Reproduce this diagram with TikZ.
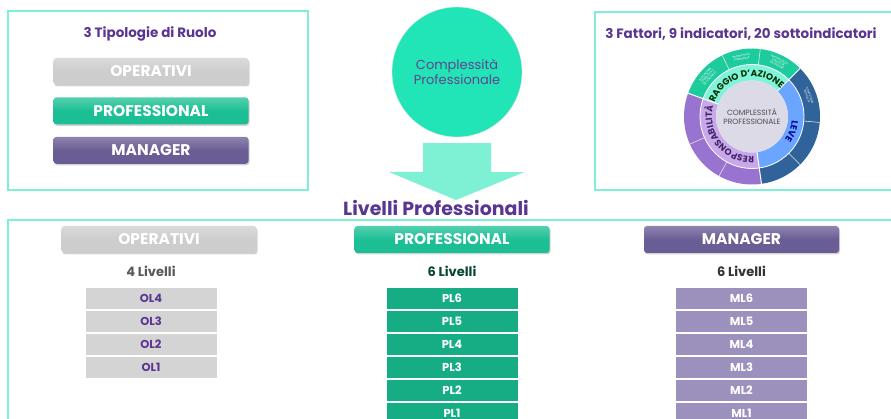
\documentclass[tikz,border=0pt]{standalone}
\usepackage{fontspec}
\setmainfont{Poppins}
\usetikzlibrary{positioning, shadows, decorations.text}

\definecolor{frameaqua}{HTML}{7FEFD6}
\definecolor{titlepurple}{HTML}{5B3592}
\definecolor{circaqua}{HTML}{21E5B7}
\definecolor{arrowaqua}{HTML}{7EF0D4}
\definecolor{opgray}{HTML}{CDCDCD}
\definecolor{proteal}{HTML}{1CBF94}
\definecolor{mgrpurple}{HTML}{6A5C94}
\definecolor{oprow}{HTML}{D4D4D4}
\definecolor{prorow}{HTML}{16AD85}
\definecolor{mgrrow}{HTML}{9C90BC}
\definecolor{wgreenout}{HTML}{1ECB9C}
\definecolor{wgreenin}{HTML}{80F3D9}
\definecolor{wblueout}{HTML}{2F6399}
\definecolor{wbluein}{HTML}{6AA6FF}
\definecolor{wpurpout}{HTML}{9873CF}
\definecolor{wpurpin}{HTML}{C8A8EB}
\definecolor{wcore}{HTML}{DCDAE6}

% annular sector: colour, start angle, end angle, inner radius, outer radius
\newcommand\ringsector[5]{%
  \fill[#1] (#2:#4) arc[start angle=#2, end angle=#3, radius=#4]
    -- (#3:#5) arc[start angle=#3, end angle=#2, radius=#5] -- cycle;}

\begin{document}
\begin{tikzpicture}[
    x=1pt, y=1pt,
    frame/.style={draw=frameaqua, line width=1.5pt},
    heading/.style={text=titlepurple, font=\bfseries\fontsize{13.5}{14}\selectfont},
    role/.style={rectangle, rounded corners=3pt, top color=#1!75!white,
                 bottom color=#1, middle color=#1, minimum width=195pt,
                 minimum height=27pt, text=white, inner sep=0pt,
                 font=\bfseries\fontsize{15.5}{15.5}\selectfont,
                 drop shadow={opacity=0.35, shadow xshift=1pt, shadow yshift=-1.5pt}},
    count/.style={font=\bfseries\fontsize{13}{13}\selectfont},
    lvl/.style={rectangle, fill=#1, draw=white, line width=1pt,
                minimum width=132pt, minimum height=22pt, inner sep=0pt,
                font=\bfseries\fontsize{11.5}{11.5}\selectfont},
    tiny/.style={text=white, align=center, inner sep=0pt,
                 font=\fontsize{2.8}{3.1}\selectfont},
    node distance=12pt
  ]
  \useasboundingbox (0,0) rectangle (891,-419);

  % upper left: role types
  \draw[frame] (8,-11) rectangle (308,-190);
  \node[heading] (tipi) at (150,-34) {3 Tipologie di Ruolo};
  \node[role=opgray] (topop) at (151,-71.5) {OPERATIVI};
  \node[role=proteal, below=of topop] (toppro) {PROFESSIONAL};
  \node[role=mgrpurple, below=of toppro] (topmgr) {MANAGER};

  % centre: complexity and arrow
  \node[circle, fill=circaqua, draw=black!10, minimum size=130pt, align=center,
        text=titlepurple!80!gray, font=\fontsize{13}{15.5}\selectfont]
    (cplx) at (457,-72) {Complessità\\Professionale};
  \fill[arrowaqua] ([yshift=-6pt]cplx.south) ++(-34,0) -- ++(68,0) -- ++(0,-29)
    -- ++(33,0) -- (456,-200) -- (389,-172) -- ++(34,0) -- cycle;
  \node[heading, font=\bfseries\fontsize{19}{19}\selectfont] (livelli)
    at (436,-208) {Livelli Professionali};

  % upper right: factors wheel
  \draw[frame] (895,-12) -- (595,-12) -- (595,-190) -- (895,-190);
  \node[heading] (fattori) at (741,-34) {3 Fattori, 9 indicatori, 20 sottoindicatori};
  \begin{scope}[shift={(752,-116.5)}]
    \ringsector{wgreenout}{45}{160}{52}{68}
    \ringsector{wblueout}{-82}{45}{52}{68}
    \ringsector{wpurpout}{160}{278}{52}{68}
    \ringsector{wgreenin}{45}{160}{36}{52}
    \ringsector{wbluein}{-82}{45}{36}{52}
    \ringsector{wpurpin}{160}{278}{36}{52}
    \fill[wcore] (0,0) circle[radius=36];
    \foreach \a in {45,160,278}
      \draw[white, line width=1pt] (\a:36) -- (\a:68);
    \foreach \a in {116,83,-5,-45,204,241}
      \draw[white!80!gray, line width=0.6pt] (\a:52) -- (\a:68);
    \draw[white, line width=0.8pt] (0,0) circle[radius=52];
    \node[align=center, text=black!70, inner sep=0pt,
          font=\fontsize{7.6}{9.2}\selectfont] (core) at (0,0)
      {COMPLESSITÀ\\PROFESSIONALE};
    \path[decorate, decoration={text along path, text align=center,
          text color=black!80!green,
          text={|\bfseries\fontsize{9}{9}\selectfont|RAGGIO D'AZIONE}}]
      (162:40) arc[start angle=162, end angle=42, radius=40];
    \path[decorate, decoration={text along path, text align=center,
          text color=blue!60!black,
          text={|\bfseries\fontsize{9}{9}\selectfont|LEVE}}]
      (40:40) arc[start angle=40, end angle=-80, radius=40];
    \path[decorate, decoration={text along path, text align=center,
          text color=titlepurple!70!black,
          text={|\bfseries\fontsize{9}{9}\selectfont|RESPONSABILITÀ}}]
      (278:40) arc[start angle=278, end angle=160, radius=40];
    \node[tiny, rotate=48] at (138:60) {AUTONOMIA\\OPERATIVA E\\DECISIONALE};
    \node[tiny, rotate=10] at (100:60) {PROSPETTIVA\\TEMPORALE};
    \node[tiny, rotate=-26] at (64:60) {NATURA DELLE\\STRATEGIE\\DA GESTIRE};
    \node[tiny, rotate=-70] at (20:60) {COMPETENZE\\RICHIESTE};
  \end{scope}

  % lower band: professional levels
  \draw[frame] (8,-430) -- (8,-220) -- (895,-220);

  \node[role=opgray] (botop) at (159,-239.5) {OPERATIVI};
  \node[role=proteal] (botpro) at (452,-239.5) {PROFESSIONAL};
  \node[role=mgrpurple] (botmgr) at (741.5,-239.5) {MANAGER};

  \node[count, text=black!65] (opn) at (151,-271) {4 Livelli};
  \node[count, text=prorow!40!black] (pron) at (452,-271) {6 Livelli};
  \node[count, text=black!80] (mgrn) at (741.5,-271) {6 Livelli};

  \node[lvl=oprow, text=titlepurple] (ol4) at (151,-298.5) {OL4};
  \foreach \i/\j in {3/4, 2/3, 1/2}
    \node[lvl=oprow, text=titlepurple, below=0pt of ol\j] (ol\i) {OL\i};

  \node[lvl=prorow, text=white] (pl6) at (452,-298.5) {PL6};
  \foreach \i/\j in {5/6, 4/5, 3/4, 2/3, 1/2}
    \node[lvl=prorow, text=white, below=0pt of pl\j] (pl\i) {PL\i};

  \node[lvl=mgrrow, text=white] (ml6) at (741.5,-298.5) {ML6};
  \foreach \i/\j in {5/6, 4/5, 3/4, 2/3, 1/2}
    \node[lvl=mgrrow, text=white, below=0pt of ml\j] (ml\i) {ML\i};

\end{tikzpicture}
\end{document}
